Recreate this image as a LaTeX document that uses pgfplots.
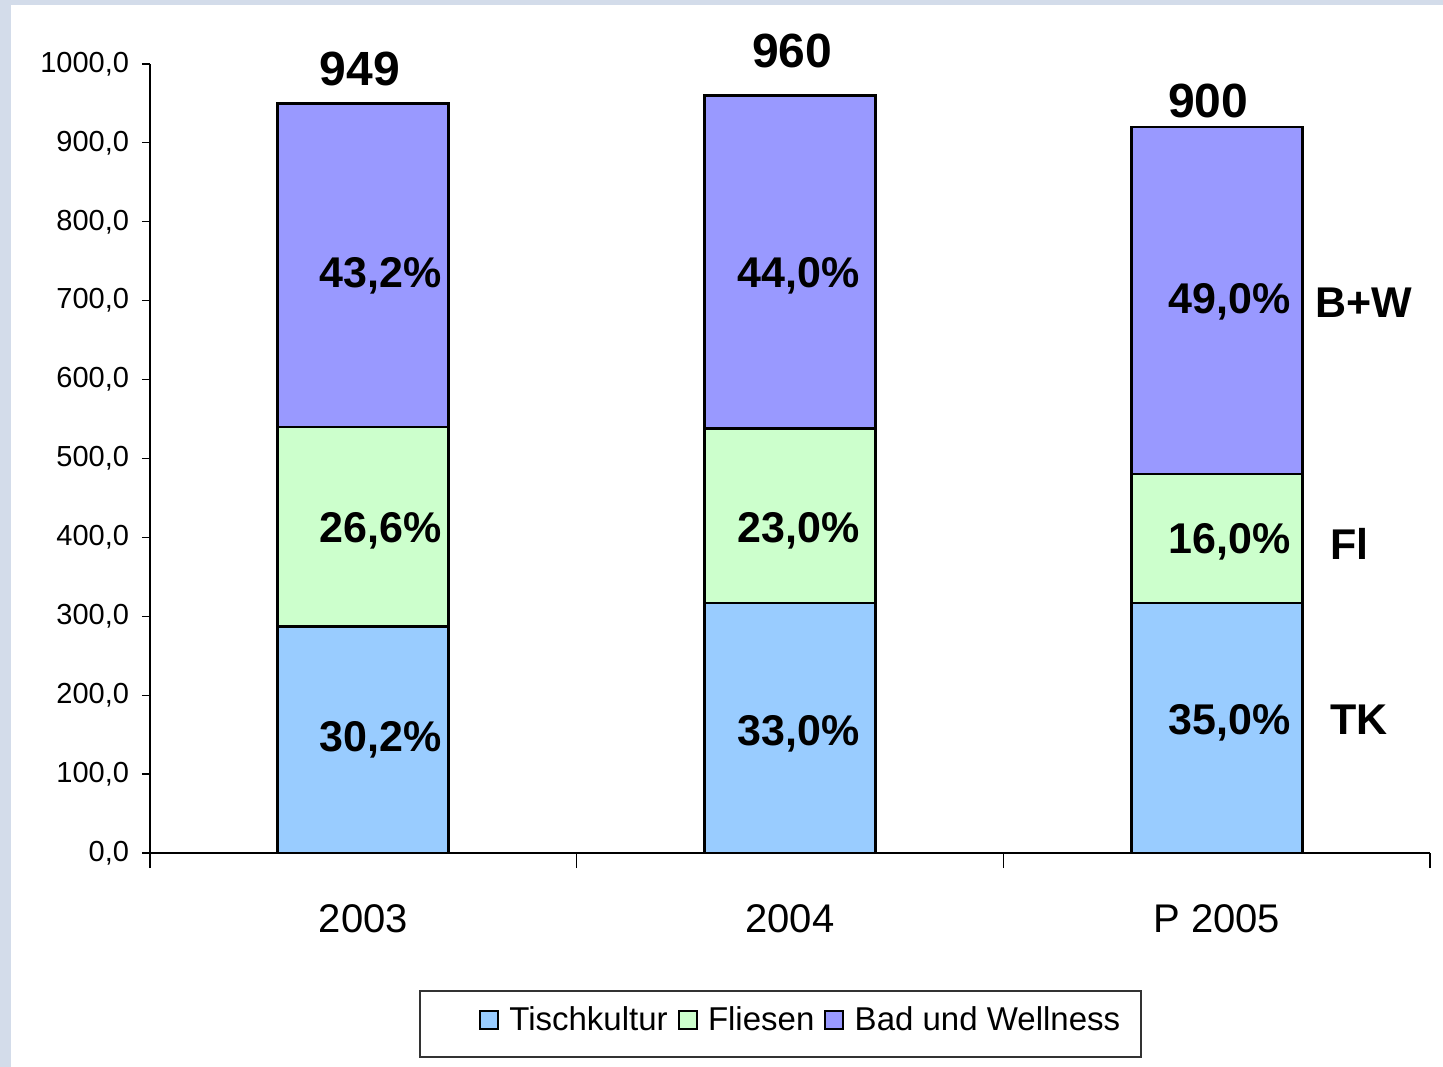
\documentclass[border=0pt]{standalone}
\usepackage{pgfplots}
\pgfplotsset{compat=1.18}
\usepackage{fontspec}
\setmainfont{Liberation Sans}
\definecolor{tk}{HTML}{99CCFF}
\definecolor{fl}{HTML}{CCFFCC}
\definecolor{bw}{HTML}{9999FF}
\definecolor{frame}{HTML}{D3DCEA}
\newcommand{\lbl}{\fontsize{21.5bp}{21.5bp}\selectfont\bfseries}
\begin{document}
\begin{tikzpicture}
\path[use as bounding box, fill=frame] (0,0) rectangle (721.5bp,533.5bp);
\fill[white] (5.5bp,0) rectangle (721.5bp,531bp);
\begin{axis}[
  at={(75bp,107bp)}, anchor=south west,
  scale only axis, width=640bp, height=394.5bp,
  clip=false,
  ybar stacked, bar width=85.5bp,
  xmin=-0.5, xmax=2.5, ymin=0, ymax=1000,
  axis x line*=bottom, axis y line*=left,
  axis line style={line width=0.6bp},
  xtick={0,1,2}, xticklabels={2003,2004,P 2005},
  minor xtick={-0.5,0.5,1.5,2.5},
  ytick={0,100,...,1000},
  tick align=outside,
  major tick length=4bp, minor tick length=7.5bp,
  major x tick style={draw=none},
  tick style={line width=0.6bp, black},
  xticklabel style={font=\fontsize{20bp}{20bp}\selectfont, yshift=-18.5bp},
  yticklabel style={font=\fontsize{14.5bp}{14.5bp}\selectfont, xshift=-3bp,
    /pgf/number format/.cd, fixed, fixed zerofill, precision=1, use comma, 1000 sep={}, assume math mode=true},
  every axis plot/.append style={draw=black, line width=1.4bp},
  legend columns=3,
  legend style={draw=none, fill=none, at={(0.509,-0.2117)}, anchor=center,
    font=\fontsize{16.5bp}{16.5bp}\selectfont,
    /tikz/every even column/.append style={column sep=3bp}},
  legend image code/.code={\draw[#1, draw=black, line width=1bp] (0bp,-4.5bp) rectangle (9bp,4.5bp); \path (12bp,0bp);},
  after end axis/.code={
    % segment shares
    \node[font=\lbl] at (axis cs:0.04,143) {30,2\%};
    \node[font=\lbl] at (axis cs:0.04,408) {26,6\%};
    \node[font=\lbl] at (axis cs:0.04,731) {43,2\%};
    \node[font=\lbl] at (axis cs:1.02,151) {33,0\%};
    \node[font=\lbl] at (axis cs:1.02,408) {23,0\%};
    \node[font=\lbl] at (axis cs:1.02,731) {44,0\%};
    \node[font=\lbl] at (axis cs:2.03,165) {35,0\%};
    \node[font=\lbl] at (axis cs:2.03,395) {16,0\%};
    \node[font=\lbl] at (axis cs:2.03,699) {49,0\%};
  },
]
\addplot[fill=tk] coordinates {(0,286.6) (1,316.8) (2,316.9)};
\addplot[fill=fl] coordinates {(0,253.4) (1,220.8) (2,163.5)};
\addplot[fill=bw] coordinates {(0,410.0) (1,422.4) (2,439.8)};
\legend{Tischkultur, Fliesen, Bad und Wellness}
% totals
\node[font=\fontsize{24bp}{24bp}\selectfont\bfseries, anchor=base] at (axis cs:-0.008,973) {949};
\node[font=\fontsize{24bp}{24bp}\selectfont\bfseries, anchor=base] at (axis cs:1.005,995) {960};
\node[font=\fontsize{24bp}{24bp}\selectfont\bfseries, anchor=base] at (axis cs:1.98,932) {900};
% segment names
\node[font=\lbl, anchor=west, inner sep=0pt] at (axis cs:2.230,697) {B+W};
\node[font=\lbl, anchor=west, inner sep=0pt] at (axis cs:2.266,392) {Fl};
\node[font=\lbl, anchor=west, inner sep=0pt] at (axis cs:2.266,169) {TK};
\end{axis}
\draw[line width=0.6bp, black!80] (210bp,5bp) rectangle (570.5bp,38bp);
\end{tikzpicture}
\end{document}
